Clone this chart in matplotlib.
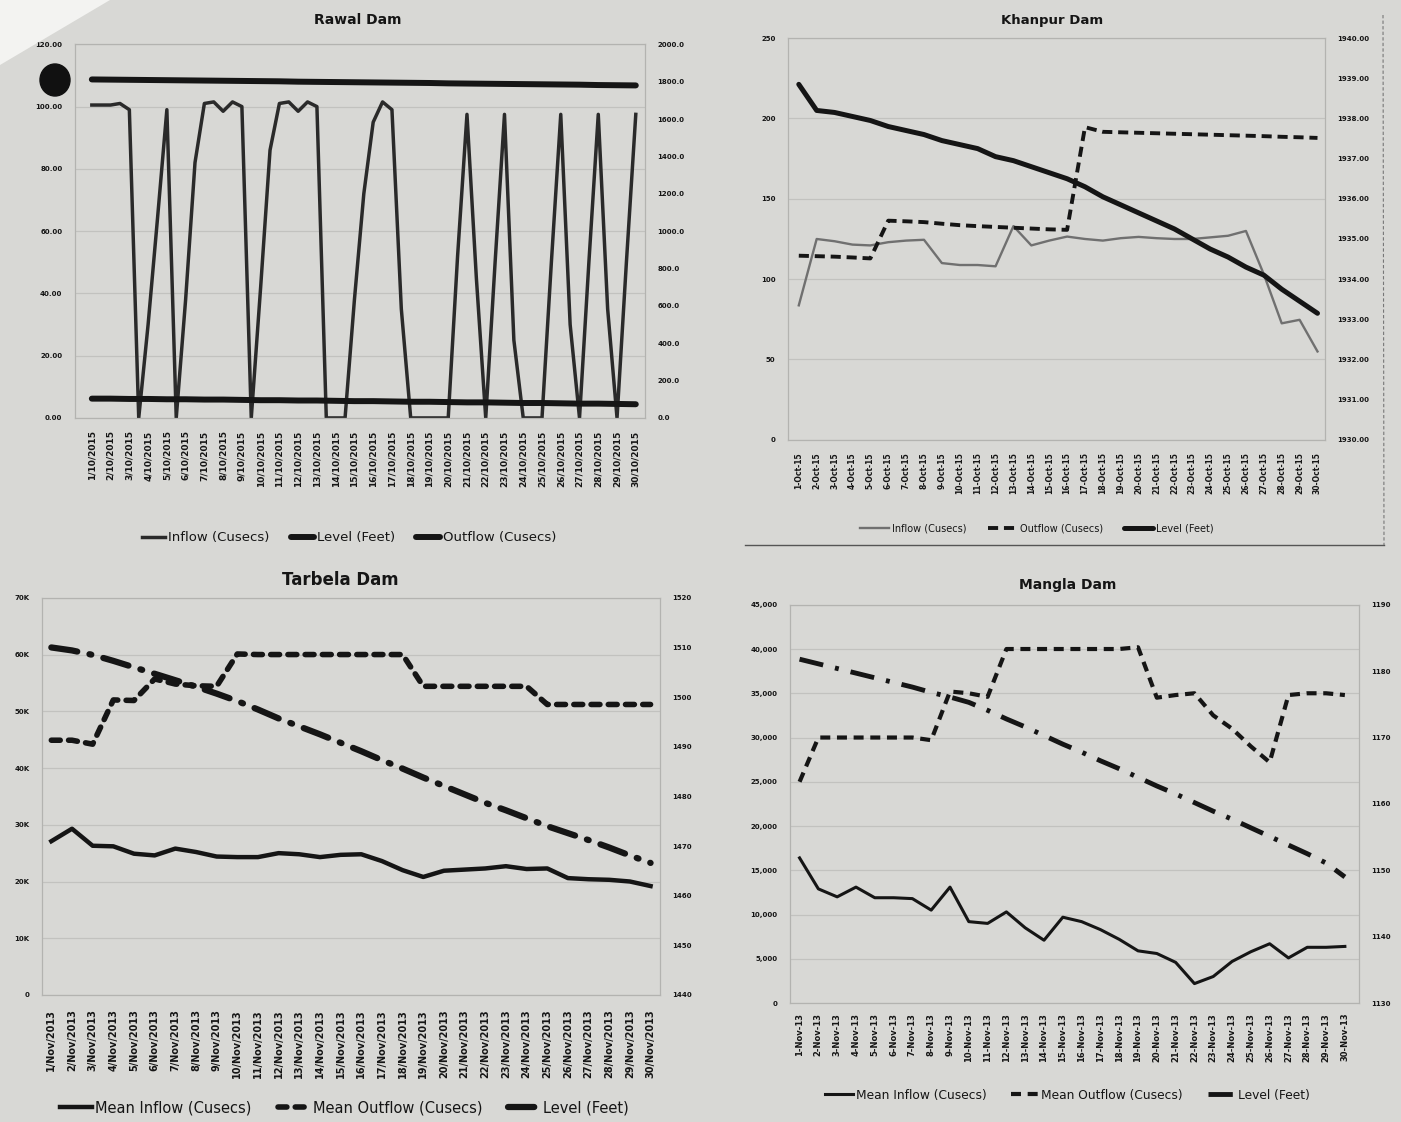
import numpy as np
import matplotlib
matplotlib.use('Agg')
import matplotlib.pyplot as plt
from matplotlib.lines import Line2D
from matplotlib.patches import Polygon, Ellipse

PAPER = '#d8d8d5'
INK = '#151515'
FRAME = '#b3b3b0'

# ---------------- data ----------------
days = np.arange(1, 31)

# Rawal Dam (inflow read at half-day steps, level / outflow daily)
rawal_labels = ['%d/10/2015' % d for d in days]
rawal_inflow_x = np.arange(0, 29.5, 0.5)
rawal_inflow = [100.5, 100.5, 100.5, 101, 99, 0, 30, 64, 99, 0,
                38, 82, 101, 101.5, 98.5, 101.5, 100, 0, 42, 86,
                101, 101.5, 98.5, 101.5, 100, 0, 0, 0, 38, 72,
                95, 101.5, 99, 35, 0, 0, 0, 0, 0, 52,
                97.5, 45, 0, 50, 97.5, 25, 0, 0, 0, 50,
                97.5, 30, 0, 50, 97.5, 35, 0, 50, 97.5]
rawal_level = [1812, 1811, 1810, 1809, 1808, 1807, 1806, 1805, 1804, 1803,
               1802, 1800, 1799, 1798, 1797, 1796, 1795, 1794, 1793, 1791,
               1790, 1789, 1788, 1787, 1786, 1785, 1784, 1782, 1781, 1780]
rawal_outflow = [6.2, 6.2, 6.1, 6.1, 6.0, 6.0, 5.9, 5.9, 5.8, 5.7,
                 5.7, 5.6, 5.6, 5.5, 5.4, 5.4, 5.3, 5.2, 5.2, 5.1,
                 5.0, 5.0, 4.9, 4.8, 4.8, 4.7, 4.6, 4.6, 4.5, 4.4]

# Khanpur Dam
khanpur_labels = ['%d-Oct-15' % d for d in days]
khanpur_inflow = [83.7, 125, 123.6, 121.5, 121, 123, 124, 124.5, 110, 108.8,
                  108.8, 108, 133, 121, 124, 126.5, 125, 124, 125.5, 126.3,
                  125.5, 125, 125, 126, 127, 130, 103, 72.5, 74.7, 55]
khanpur_outflow = [114.6, 114.3, 114, 113.5, 112.9, 136.4, 136, 135.5, 134.5, 133.6,
                   133, 132.5, 132, 131.5, 131, 130.7, 194.6, 191.7, 191.4, 191.1,
                   190.8, 190.5, 190.2, 189.9, 189.6, 189.3, 189, 188.6, 188.3, 187.9]
khanpur_level = [1938.85, 1938.2, 1938.15, 1938.05, 1937.95, 1937.8, 1937.7, 1937.6, 1937.45, 1937.35,
                 1937.25, 1937.05, 1936.95, 1936.8, 1936.65, 1936.5, 1936.3, 1936.05, 1935.85, 1935.65,
                 1935.45, 1935.25, 1935.0, 1934.75, 1934.55, 1934.3, 1934.1, 1933.75, 1933.45, 1933.15]

# Tarbela Dam
tarbela_labels = ['%d/Nov/2013' % d for d in days]
tarbela_inflow = [27100, 29300, 26300, 26200, 24900, 24600, 25800, 25200, 24400, 24300,
                  24300, 25000, 24800, 24300, 24700, 24800, 23600, 22000, 20800, 21900,
                  22100, 22300, 22700, 22200, 22300, 20600, 20400, 20300, 20000, 19200]
tarbela_outflow = [44900, 44900, 44200, 52000, 51900, 55700, 54800, 54500, 54400, 60100,
                   60000, 60000, 60000, 60000, 60000, 60000, 60000, 60000, 54400, 54400,
                   54400, 54400, 54400, 54400, 51200, 51200, 51200, 51200, 51200, 51200]
tarbela_level = [1510.0, 1509.4, 1508.5, 1507.3, 1506.0, 1504.7, 1503.4, 1502.1, 1500.7, 1499.2,
                 1497.5, 1495.7, 1494.1, 1492.5, 1490.8, 1489.1, 1487.3, 1485.6, 1483.8, 1482.1,
                 1480.4, 1478.7, 1477.2, 1475.6, 1474.0, 1472.6, 1471.2, 1469.7, 1468.1, 1466.6]

# Mangla Dam
mangla_labels = ['%d-Nov-13' % d for d in days]
mangla_inflow = [16400, 12900, 12000, 13100, 11900, 11900, 11800, 10500, 13100, 9200,
                 9000, 10300, 8500, 7100, 9700, 9200, 8300, 7200, 5900, 5600,
                 4600, 2200, 3000, 4700, 5800, 6700, 5100, 6300, 6300, 6400]
mangla_outflow = [25000, 30000, 30000, 30000, 30000, 30000, 30000, 29700, 35200, 35000,
                  34600, 40000, 40000, 40000, 40000, 40000, 40000, 40000, 40200, 34500,
                  34800, 35000, 32500, 31000, 29000, 27200, 34800, 35000, 35000, 34800]
mangla_level = [1181.8, 1181.1, 1180.4, 1179.7, 1179.0, 1178.3, 1177.6, 1176.8, 1176.1, 1175.3,
                1174.1, 1172.8, 1171.6, 1170.3, 1169.0, 1167.8, 1166.5, 1165.3, 1164.0, 1162.7,
                1161.5, 1160.2, 1158.9, 1157.7, 1156.4, 1155.1, 1153.8, 1152.5, 1151.1, 1149.0]


def make_axes(fig, rect, xlim, xlabels, xfs, xpad,
              lticks, llabels, rlim, rticks, rlabels):
    '''
    Build a twin-axis panel in the printed Excel style
    '''
    ax = fig.add_axes(rect)
    ax.set_facecolor('none')
    ax2 = ax.twinx()
    ax2.set_facecolor('none')
    ax.set_xlim(*xlim)
    ax.set_ylim(lticks[0], lticks[-1])
    ax.set_yticks(lticks)
    ax.set_yticklabels(llabels)
    ax2.set_ylim(*rlim)
    ax2.set_yticks(rticks)
    ax2.set_yticklabels(rlabels)
    ax.set_xticks(range(len(xlabels)))
    ax.set_xticklabels(xlabels, rotation=90, fontsize=xfs, fontweight='bold', color=INK)
    ax.tick_params(axis='x', length=0, pad=xpad)
    for a in (ax, ax2):
        a.tick_params(axis='y', length=0, labelsize=5, labelcolor=INK, pad=9)
        for s in a.spines.values():
            s.set_color(FRAME)
            s.set_linewidth(0.8)
    for lab in ax.get_yticklabels() + ax2.get_yticklabels():
        lab.set_fontweight('bold')
    ax.grid(axis='y', color='#c2c2bf', linewidth=0.9)
    ax.set_axisbelow(True)
    return ax, ax2


fig = plt.figure(figsize=(14.01, 11.22), dpi=100)
fig.patch.set_facecolor(PAPER)

# ---------------- Rawal Dam ----------------
ax, ax2 = make_axes(fig, [0.0535, 0.6275, 0.407, 0.333], (-0.9, 29.5), rawal_labels, 6.5, 9,
                    list(range(0, 121, 20)), ['%.2f' % v for v in range(0, 121, 20)],
                    (0, 2000), list(range(0, 2001, 200)), ['%.1f' % v for v in range(0, 2001, 200)])
h1, = ax.plot(rawal_inflow_x, rawal_inflow, color='#2a2a2a', lw=2.5, solid_joinstyle='round')
h3, = ax.plot(np.arange(30), rawal_outflow, color=INK, lw=4.3, solid_capstyle='round')
h2, = ax2.plot(np.arange(30), rawal_level, color=INK, lw=4.3, solid_capstyle='round')
ax.legend([h1, h2, h3], ['Inflow (Cusecs)', 'Level (Feet)', 'Outflow (Cusecs)'],
          loc='center', bbox_to_anchor=(0.249, 0.5205), bbox_transform=fig.transFigure,
          ncol=3, frameon=False, fontsize=9.5, handlelength=1.8, handletextpad=0.2,
          columnspacing=1.6, labelcolor=INK)
fig.text(0.2555, 0.982, 'Rawal Dam', ha='center', va='center', fontsize=10,
         fontweight='bold', color=INK)

# ---------------- Khanpur Dam ----------------
ax, ax2 = make_axes(fig, [0.5625, 0.608, 0.383, 0.358], (-0.6, 29.4), khanpur_labels, 5.5, 9,
                    list(range(0, 251, 50)), [str(v) for v in range(0, 251, 50)],
                    (1930, 1940), list(range(1930, 1941)), ['%d.00' % v for v in range(1930, 1941)])
h1, = ax.plot(np.arange(30), khanpur_inflow, color='#707070', lw=1.7)
h2, = ax.plot(np.arange(30), khanpur_outflow, color=INK, lw=2.8, linestyle=(0, (2.6, 1.5)))
h3, = ax2.plot(np.arange(30), khanpur_level, color=INK, lw=3.6, solid_capstyle='round')
ax.legend([h1, h2, h3], ['Inflow (Cusecs)', 'Outflow (Cusecs)', 'Level (Feet)'],
          loc='center', bbox_to_anchor=(0.740, 0.5294), bbox_transform=fig.transFigure,
          ncol=3, frameon=False, fontsize=7, handlelength=3.0, handletextpad=0.3,
          columnspacing=2.2, labelcolor=INK)
fig.text(0.751, 0.982, 'Khanpur Dam', ha='center', va='center', fontsize=9.5,
         fontweight='bold', color=INK)
# outer chart frame of the Khanpur figure
fig.add_artist(Line2D([745 / 1401, 1384 / 1401], [1 - 545 / 1122, 1 - 545 / 1122],
                      transform=fig.transFigure, color='#555555', lw=1.0))
fig.add_artist(Line2D([1383 / 1401, 1384 / 1401], [1 - 15 / 1122, 1 - 545 / 1122],
                      transform=fig.transFigure, color='#777777', lw=0.8, linestyle=(0, (3, 2))))

# ---------------- Tarbela Dam ----------------
ax, ax2 = make_axes(fig, [0.030, 0.1132, 0.441, 0.354], (-0.45, 29.45), tarbela_labels, 7, 10,
                    list(range(0, 70001, 10000)),
                    ['0'] + ['%dK' % (v // 1000) for v in range(10000, 70001, 10000)],
                    (1440, 1520), list(range(1440, 1521, 10)), [str(v) for v in range(1440, 1521, 10)])
h1, = ax.plot(np.arange(30), tarbela_inflow, color=INK, lw=3.2, solid_joinstyle='round')
h2, = ax.plot(np.arange(30), tarbela_outflow, color=INK, lw=4.0, linestyle=(0, (1.6, 1.5)),
              dash_capstyle='round')
h3, = ax2.plot(np.arange(30), tarbela_level, color=INK, lw=4.5, linestyle=(0, (4.2, 2.0, 0.3, 2.0)),
               dash_capstyle='round')
ax.legend([h1, h2, h3], ['Mean Inflow (Cusecs)', 'Mean Outflow (Cusecs)', 'Level (Feet)'],
          loc='center', bbox_to_anchor=(0.246, 0.0125), bbox_transform=fig.transFigure,
          ncol=3, frameon=False, fontsize=10.5, handlelength=2.2, handletextpad=0.2,
          columnspacing=1.8, labelcolor=INK)
fig.text(0.2427, 0.483, 'Tarbela Dam', ha='center', va='center', fontsize=12,
         fontweight='bold', color=INK)

# ---------------- Mangla Dam ----------------
ax, ax2 = make_axes(fig, [0.564, 0.106, 0.406, 0.355], (-0.5, 29.75), mangla_labels, 6, 7,
                    list(range(0, 45001, 5000)), ['{:,}'.format(v) for v in range(0, 45001, 5000)],
                    (1130, 1190), list(range(1130, 1191, 10)), [str(v) for v in range(1130, 1191, 10)])
h1, = ax.plot(np.arange(30), mangla_inflow, color=INK, lw=2.2, solid_joinstyle='round')
h2, = ax.plot(np.arange(30), mangla_outflow, color=INK, lw=3.0, linestyle=(0, (2.4, 1.6)))
h3, = ax2.plot(np.arange(30), mangla_level, color=INK, lw=3.5, linestyle=(0, (5, 2.5, 0.8, 2.5)))
ax.legend([h1, h2, h3], ['Mean Inflow (Cusecs)', 'Mean Outflow (Cusecs)', 'Level (Feet)'],
          loc='center', bbox_to_anchor=(0.762, 0.024), bbox_transform=fig.transFigure,
          ncol=3, frameon=False, fontsize=8.8, handlelength=2.3, handletextpad=0.2,
          columnspacing=2.0, labelcolor=INK)
fig.text(0.7623, 0.4786, 'Mangla Dam', ha='center', va='center', fontsize=10,
         fontweight='bold', color=INK)

# page corner and ink spot of the photographed sheet
fig.add_artist(Polygon([(0, 1), (110 / 1401, 1), (0, 1 - 65 / 1122)], closed=True,
                       transform=fig.transFigure, color='#f3f3f1', lw=0))
fig.add_artist(Ellipse((55 / 1401, 1 - 80 / 1122), 30 / 1401, 32 / 1122,
                       transform=fig.transFigure, color='#111111'))

fig.savefig('out.png', dpi=100, facecolor=fig.get_facecolor())
